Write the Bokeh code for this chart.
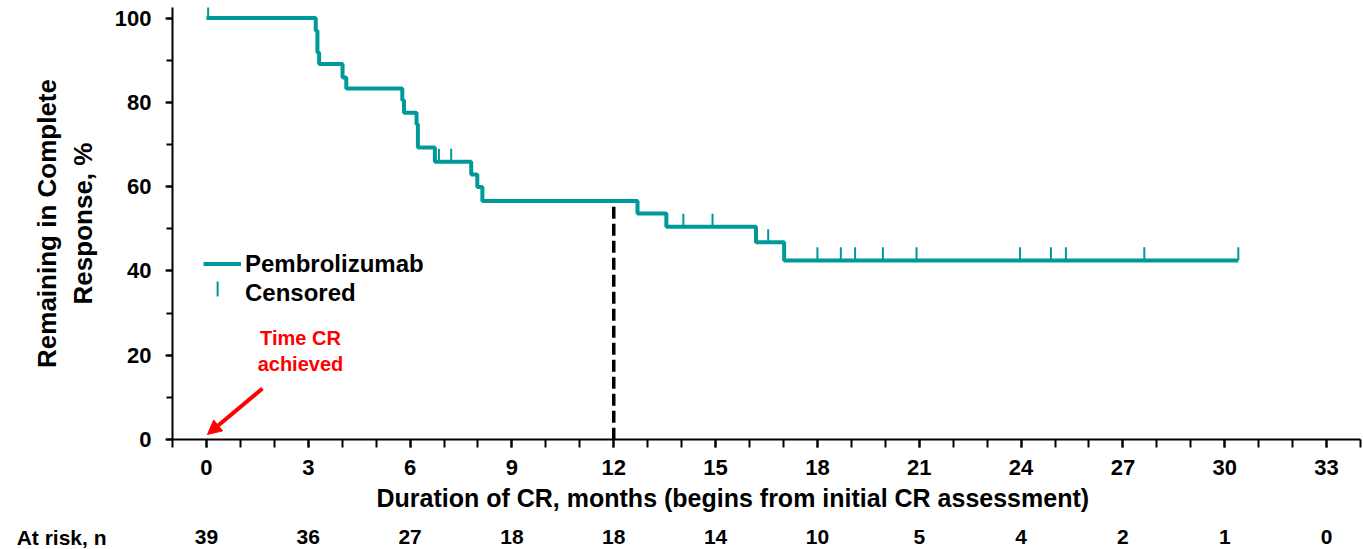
import math
from bokeh.plotting import figure
from bokeh.layouts import column
from bokeh.models import (FixedTicker, Range1d, Label, Arrow, NormalHead, Title,
                          Legend, LegendItem, ColumnDataSource, BoxAnnotation)
from bokeh.core.properties import value
from bokeh.embed import file_html
from bokeh.resources import INLINE

# ---- data ----
event_months = [0, 3.22, 3.27, 3.32, 4.01, 4.12, 5.77, 5.82, 6.19, 6.23, 6.73,
                7.80, 7.98, 8.13, 12.70, 13.55, 16.19, 17.02, 30.40]
remaining_pct = [100, 97.0, 91.8, 89.1, 85.9, 83.3, 80.5, 77.5, 74.8, 69.3, 65.9,
                 62.9, 59.9, 56.6, 53.6, 50.5, 46.8, 42.5, 42.5]
censor_months = [0.05, 6.85, 7.21, 14.05, 14.91, 16.55, 18.00, 18.69, 19.11, 19.93,
                 20.92, 23.97, 24.88, 25.32, 27.63, 30.40]
tick_months = [0, 3, 6, 9, 12, 15, 18, 21, 24, 27, 30, 33]
at_risk = [39, 36, 27, 18, 18, 14, 10, 5, 4, 2, 1, 0]
landmark_month = 12
landmark_top = 55.2

TEAL = "#009999"
FONT = "Liberation Sans"
CENSOR_H = 3.1  # censor tick height in % units (style)


def level_at(t):
    lvl = remaining_pct[0]
    for m, v in zip(event_months, remaining_pct):
        if m <= t:
            lvl = v
    return lvl


censor_levels = [level_at(t) for t in censor_months]
censor_src = ColumnDataSource(dict(x=censor_months,
                                   y=[v + CENSOR_H / 2 for v in censor_levels]))

p = figure(width=1363, height=524, x_range=Range1d(-1, 34), y_range=Range1d(0, 102.5),
           output_backend="svg", toolbar_location=None,
           min_border_left=172, min_border_right=3, min_border_top=7, min_border_bottom=85)
p.outline_line_color = None
p.grid.visible = False
p.background_fill_color = "white"

# landmark dashed line
p.segment(x0=[landmark_month], y0=[landmark_top], x1=[landmark_month], y1=[0],
          line_color="black", line_width=3.5, line_dash="12 5")

km = p.step(x=event_months, y=remaining_pct, mode="after", line_color=TEAL, line_width=4)
cens = p.scatter(x="x", y="y", source=censor_src, marker="dash", angle=math.pi / 2,
                 size=13, line_color=TEAL, line_width=2)
# legend placeholder for the censor item (its vertical tick is drawn as a thin box)
cens_key = p.scatter(x=[], y=[], marker="dash", size=1, line_alpha=0, fill_alpha=0)

# axes
xa = p.xaxis[0]
xa.ticker = FixedTicker(ticks=tick_months, minor_ticks=list(range(-1, 35)))
ya = p.yaxis[0]
ya.ticker = FixedTicker(ticks=[0, 20, 40, 60, 80, 100], minor_ticks=list(range(0, 101, 10)))
ya.axis_label = "Remaining in Complete\nResponse, %"

for ax in (xa, ya):
    ax.axis_line_color = "black"
    ax.axis_line_width = 2
    ax.major_tick_line_color = "black"
    ax.minor_tick_line_color = "black"
    ax.major_tick_line_width = 2
    ax.minor_tick_line_width = 2
    ax.major_tick_in = 0
    ax.minor_tick_in = 0
    ax.major_label_text_font = FONT
    ax.major_label_text_font_style = "bold"
    ax.major_label_text_font_size = "22px"
    ax.major_label_text_color = "black"
    ax.axis_label_text_font = FONT
    ax.axis_label_text_font_style = "bold"
    ax.axis_label_text_color = "black"

ya.axis_label_text_font_size = "26px"
xa.major_tick_out = 8
xa.minor_tick_out = 8
xa.major_label_standoff = 12
ya.major_tick_out = 7
ya.minor_tick_out = 6
ya.major_label_standoff = 14
ya.axis_label_standoff = 14

# x-axis title (offset so it sits where the reference has it)
p.add_layout(Title(text="Duration of CR, months (begins from initial CR assessment)",
                   align="left", offset=204, standoff=8, text_font=FONT,
                   text_font_style="bold", text_font_size="25px", text_color="black"),
             "below")

# annotation
for txt, yy in (("Time CR", 24.2), ("achieved", 18.0)):
    p.add_layout(Label(x=2.77, y=yy, text=txt, text_font=FONT, text_font_style="bold",
                       text_font_size="20px", text_color="#FF0000",
                       text_align="center", text_baseline="middle"))
p.add_layout(Arrow(end=NormalHead(size=14, fill_color="#FF0000", line_color="#FF0000"),
                   x_start=1.65, y_start=12.1, x_end=0.03, y_end=1.2,
                   line_color="#FF0000", line_width=4))

legend = Legend(items=[LegendItem(label="Pembrolizumab", renderers=[km]),
                       LegendItem(label="Censored", renderers=[cens_key])],
                location=(31, 132), glyph_width=38, glyph_height=29, label_standoff=4,
                padding=0, spacing=0, margin=0, border_line_color=None,
                background_fill_alpha=0, label_text_font=FONT,
                label_text_font_style="bold", label_text_font_size="24px",
                label_text_color="black")
p.add_layout(legend)
# vertical censor key in the legend
p.add_layout(BoxAnnotation(left=0.30, right=0.36, bottom=33.9, top=37.5,
                           fill_color=TEAL, fill_alpha=1, line_alpha=0))

# ---- at-risk table ----
risk = figure(width=1363, height=25, x_range=p.x_range, y_range=Range1d(-1, 1),
              output_backend="svg", toolbar_location=None, x_axis_location=None,
              min_border_left=172, min_border_right=3, min_border_top=0, min_border_bottom=0)
risk.outline_line_color = None
risk.grid.visible = False
ra = risk.yaxis[0]
ra.ticker = FixedTicker(ticks=[], minor_ticks=[])
ra.axis_line_color = None
ra.major_tick_out = 0
ra.minor_tick_out = 0
ra.major_tick_line_color = None
ra.minor_tick_line_color = None
ra.axis_label = "At risk, n"
ra.axis_label_orientation = "horizontal"
ra.axis_label_standoff = 66
ra.axis_label_text_font = FONT
ra.axis_label_text_font_style = "bold"
ra.axis_label_text_font_size = "21px"
ra.axis_label_text_color = "black"
risk.text(x=tick_months, y=[0] * len(tick_months), text=[str(n) for n in at_risk],
          text_font=value(FONT), text_font_style="bold", text_font_size="21px",
          text_color="black", text_align="center", text_baseline="middle")

open("out.html", "w").write(file_html(column(p, risk), INLINE))
